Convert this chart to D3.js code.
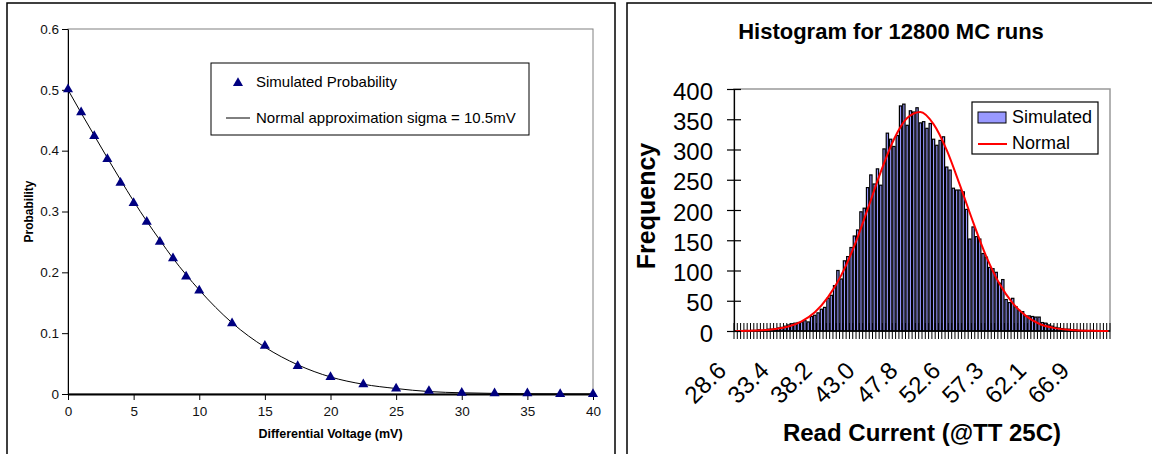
<!DOCTYPE html>
<html>
<head>
<meta charset="utf-8">
<script src="https://cdn.jsdelivr.net/npm/d3@7"></script>
<style>
  body { margin: 0; background: #fff; }
  text { font-family: Arial, "Liberation Sans", sans-serif; }
</style>
</head>
<body>
<div id="chart"></div>
<script>
// ---- left chart: probability vs differential voltage
var voltage = [0, 1, 2, 3, 4, 5, 6, 7, 8, 9, 10, 12.5, 15, 17.5, 20, 22.5, 25, 27.5, 30, 32.5, 35, 37.5, 40];
var simulatedProb = [0.501, 0.463, 0.424, 0.386, 0.347, 0.314, 0.283, 0.250, 0.223, 0.193, 0.170,
  0.116, 0.079, 0.046, 0.028, 0.016, 0.009, 0.005, 0.002, 0.001, 0.001, 0.000, 0.000];
var normalProb = [0.500, 0.462, 0.425, 0.388, 0.352, 0.317, 0.284, 0.253, 0.223, 0.196, 0.171,
  0.117, 0.077, 0.048, 0.028, 0.016, 0.009, 0.004, 0.002, 0.001, 0.0004, 0.0002, 0.0001];
var probTicks = [0, 0.1, 0.2, 0.3, 0.4, 0.5, 0.6];
var voltTicks = [0, 5, 10, 15, 20, 25, 30, 35, 40];

// ---- right chart: histogram of read current
var frequency = [0, 0, 0, 1, 0, 1, 1, 2, 1, 2, 3, 3, 4, 5, 6,
  8, 10, 12, 13, 14, 15, 17, 15, 24, 26, 30,
  36, 39, 54, 59, 75, 100, 86, 116, 123, 138, 157, 167, 197, 203,
  237, 258, 243, 268, 241, 301, 327, 317, 305, 323, 372, 375, 340, 364, 362, 369, 344, 346, 335, 343,
  317, 307, 315, 321, 271, 266, 236, 233, 233, 230, 201, 152, 172, 156, 152, 128, 122, 105, 103, 97,
  79, 85, 52, 47, 54, 40, 34, 32, 25, 25, 24, 23, 23, 14, 13,
  10, 8, 6, 5, 4, 3, 3, 2, 2, 1, 1, 1, 0, 1, 0, 0, 0, 0, 0];
var normalBins = [0, 4, 8, 12, 16, 20, 24, 28, 32, 36, 40, 44, 48, 52, 56, 60, 64, 68, 72, 76, 80, 84, 88, 92, 96, 100, 104, 108, 112, 113];
var normalFreq = [0.2, 0.5, 1.3, 3.3, 7.4, 16, 31, 56, 92, 141, 201, 263, 317, 352, 362, 342, 299, 241, 180, 123, 78, 46, 25, 12, 5.6, 2.4, 0.9, 0.3, 0.1, 0.1];
var currentLabels = ["28.6", "33.4", "38.2", "43.0", "47.8", "52.6", "57.3", "62.1", "66.9"];
var labelEvery = 13;
var freqTicks = [0, 50, 100, 150, 200, 250, 300, 350, 400];

var svg = d3.select("#chart")
  .append("svg")
  .attr("width", 1152)
  .attr("height", 454);

// panel frames
svg.append("rect").attr("x", 7).attr("y", 3).attr("width", 608).attr("height", 470)
  .attr("fill", "none").attr("stroke", "#000").attr("stroke-width", 1.5);
svg.append("rect").attr("x", 627).attr("y", 3).attr("width", 540).attr("height", 470)
  .attr("fill", "none").attr("stroke", "#000").attr("stroke-width", 1.5);

// ================= left chart =================
var left = { x0: 68, x1: 593, y0: 29, y1: 394 };
var xV = d3.scaleLinear().domain([0, 40]).range([left.x0, left.x1]);
var yP = d3.scaleLinear().domain([0, 0.6]).range([left.y1, left.y0]);

var gl = svg.append("g");

// plot area border (grey top/right)
gl.append("rect")
  .attr("x", left.x0).attr("y", left.y0)
  .attr("width", left.x1 - left.x0).attr("height", left.y1 - left.y0)
  .attr("fill", "none").attr("stroke", "#808080").attr("stroke-width", 1);

var yAxisL = gl.append("g")
  .attr("transform", "translate(" + left.x0 + ",0)")
  .call(d3.axisLeft(yP).tickValues(probTicks).tickSize(6).tickSizeOuter(0).tickPadding(3)
    .tickFormat(d3.format("~g")));

var xAxisL = gl.append("g")
  .attr("transform", "translate(0," + left.y1 + ")")
  .call(d3.axisBottom(xV).tickValues(voltTicks).tickSize(6).tickSizeOuter(0).tickPadding(6));
xAxisL.select(".domain").attr("stroke-width", 2);

[yAxisL, xAxisL].forEach(function (a) {
  a.attr("font-size", 13.5);
  a.selectAll("text").attr("fill", "#111")
    .attr("font-family", "Arial, 'Liberation Sans', sans-serif");
});

var normLine = d3.line()
  .x(function (d, i) { return xV(voltage[i]); })
  .y(function (d) { return yP(d); })
  .curve(d3.curveMonotoneX);

gl.append("path")
  .datum(normalProb)
  .attr("d", normLine)
  .attr("fill", "none")
  .attr("stroke", "#000")
  .attr("stroke-width", 1);

gl.selectAll(".tri")
  .data(simulatedProb)
  .enter()
  .append("path")
  .attr("class", "tri")
  .attr("d", d3.symbol(d3.symbolTriangle, 44))
  .attr("transform", function (d, i) { return "translate(" + xV(voltage[i]) + "," + yP(d) + ")"; })
  .attr("fill", "#000080");

gl.append("text")
  .attr("transform", "translate(33," + ((left.y0 + left.y1) / 2) + ") rotate(-90)")
  .attr("text-anchor", "middle")
  .attr("font-size", 12).attr("font-weight", "bold")
  .text("Probability");

gl.append("text")
  .attr("x", (left.x0 + left.x1) / 2).attr("y", 438)
  .attr("text-anchor", "middle")
  .attr("font-size", 12.5).attr("font-weight", "bold")
  .text("Differential Voltage (mV)");

// legend
var legL = gl.append("g");
legL.append("rect").attr("x", 211).attr("y", 63).attr("width", 318).attr("height", 72)
  .attr("fill", "#fff").attr("stroke", "#000").attr("stroke-width", 1);
legL.append("path")
  .attr("d", d3.symbol(d3.symbolTriangle, 44))
  .attr("transform", "translate(238,83)")
  .attr("fill", "#000080");
legL.append("text").attr("x", 256).attr("y", 87).attr("font-size", 15).text("Simulated Probability");
legL.append("line").attr("x1", 226).attr("x2", 250).attr("y1", 118).attr("y2", 118)
  .attr("stroke", "#000").attr("stroke-width", 1);
legL.append("text").attr("x", 256).attr("y", 123).attr("font-size", 15).text("Normal approximation sigma = 10.5mV");

// ================= right chart =================
var right = { x0: 734, x1: 1110, y0: 89, y1: 331 };
var bins = d3.range(frequency.length);
var xB = d3.scaleBand().domain(bins).range([right.x0, right.x1]).padding(0);
var yF = d3.scaleLinear().domain([0, 400]).range([right.y1, right.y0]);
var bw = xB.bandwidth();

var gr = svg.append("g");

gr.append("text")
  .attr("x", 891).attr("y", 39)
  .attr("text-anchor", "middle")
  .attr("font-size", 22).attr("font-weight", "bold")
  .text("Histogram for 12800 MC runs");

gr.append("rect")
  .attr("x", right.x0).attr("y", right.y0)
  .attr("width", right.x1 - right.x0).attr("height", right.y1 - right.y0)
  .attr("fill", "none").attr("stroke", "#999").attr("stroke-width", 1.5);

// bars
gr.selectAll(".bar")
  .data(frequency)
  .enter()
  .append("rect")
  .attr("class", "bar")
  .attr("x", function (d, i) { return xB(i) + bw * 0.15; })
  .attr("width", bw * 0.7)
  .attr("y", function (d) { return yF(d); })
  .attr("height", function (d) { return right.y1 - yF(d); })
  .attr("fill", "#9999FF")
  .attr("stroke", "#000")
  .attr("stroke-width", 1.2);

// category tick marks crossing the axis (at bin boundaries)
gr.selectAll(".xtick")
  .data(d3.range(frequency.length + 1))
  .enter()
  .append("line")
  .attr("class", "xtick")
  .attr("x1", function (i) { return right.x0 + i * bw; })
  .attr("x2", function (i) { return right.x0 + i * bw; })
  .attr("y1", right.y1 - 8)
  .attr("y2", right.y1 + 8)
  .attr("stroke", "#000")
  .attr("stroke-width", 1);

gr.append("line")
  .attr("x1", right.x0).attr("x2", right.x1)
  .attr("y1", right.y1).attr("y2", right.y1)
  .attr("stroke", "#000").attr("stroke-width", 1.5);

// normal curve
var normFreqLine = d3.line()
  .x(function (d, i) { return xB(normalBins[i]) + bw / 2; })
  .y(function (d) { return yF(d); })
  .curve(d3.curveMonotoneX);

gr.append("path")
  .datum(normalFreq)
  .attr("d", normFreqLine)
  .attr("fill", "none")
  .attr("stroke", "#FF0000")
  .attr("stroke-width", 2);

// y axis with crossing ticks
var yAxisR = gr.append("g")
  .attr("transform", "translate(" + right.x0 + ",0)")
  .call(d3.axisLeft(yF).tickValues(freqTicks).tickSize(7).tickSizeOuter(0).tickPadding(14));
yAxisR.selectAll(".tick line").attr("x1", 7).attr("stroke-width", 1.2);
yAxisR.select(".domain").attr("stroke-width", 1.2);
yAxisR.selectAll("text")
  .attr("font-size", 24).attr("fill", "#000").attr("dy", "0.42em")
  .attr("font-family", "Arial, 'Liberation Sans', sans-serif");

// x category labels
gr.selectAll(".xlab")
  .data(currentLabels)
  .enter()
  .append("text")
  .attr("class", "xlab")
  .attr("text-anchor", "end")
  .attr("font-size", 24)
  .attr("transform", function (d, k) {
    var cx = xB(k * labelEvery) + bw / 2 - 8;
    return "translate(" + cx + ",372) rotate(-45)";
  })
  .text(function (d) { return d; });

gr.append("text")
  .attr("transform", "translate(655," + ((right.y0 + right.y1) / 2 - 4) + ") rotate(-90)")
  .attr("text-anchor", "middle")
  .attr("font-size", 25).attr("font-weight", "bold")
  .text("Frequency");

gr.append("text")
  .attr("x", (right.x0 + right.x1) / 2).attr("y", 441)
  .attr("text-anchor", "middle")
  .attr("font-size", 24).attr("font-weight", "bold")
  .text("Read Current (@TT 25C)");

// legend
var legR = gr.append("g");
legR.append("rect").attr("x", 972).attr("y", 102).attr("width", 126).attr("height", 52)
  .attr("fill", "#fff").attr("stroke", "#000").attr("stroke-width", 1.2);
legR.append("rect").attr("x", 978).attr("y", 112).attr("width", 28).attr("height", 11)
  .attr("fill", "#9999FF").attr("stroke", "#000").attr("stroke-width", 1);
legR.append("text").attr("x", 1012).attr("y", 123).attr("font-size", 18).text("Simulated");
legR.append("line").attr("x1", 978).attr("x2", 1007).attr("y1", 144).attr("y2", 144)
  .attr("stroke", "#FF0000").attr("stroke-width", 2);
legR.append("text").attr("x", 1012).attr("y", 149).attr("font-size", 18).text("Normal");
</script>
</body>
</html>
